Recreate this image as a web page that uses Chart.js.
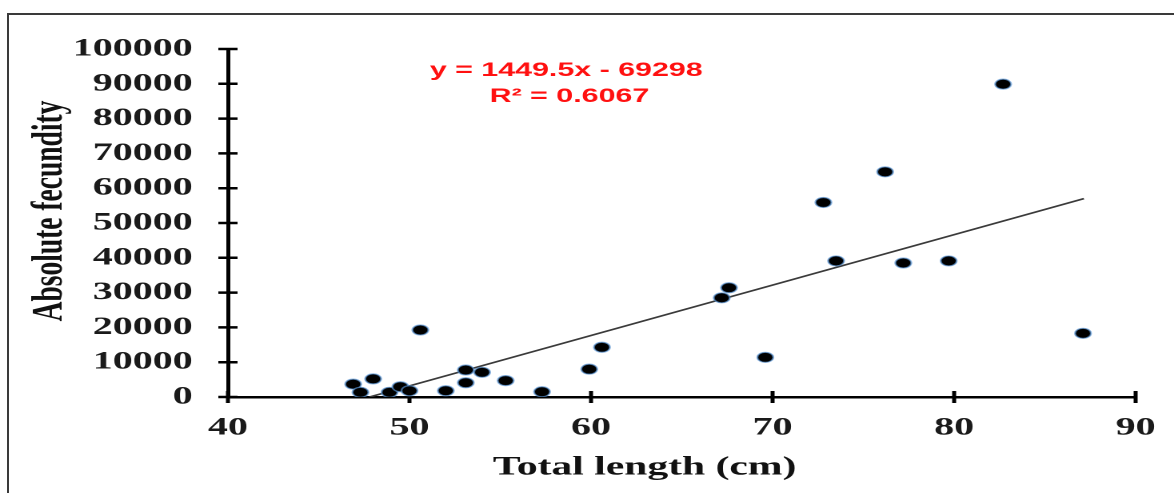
<!DOCTYPE html>
<html>
<head>
<meta charset="utf-8">
<script src="https://cdn.jsdelivr.net/npm/chart.js@4.4.1/dist/chart.umd.min.js"></script>
<style>
  html, body { margin: 0; padding: 0; background: #fff; overflow: hidden; }
  /* marco gris del recorte original */
  #marco { position: absolute; left: 7px; top: 13px; width: 1300px; height: 600px;
           border-left: 2px solid #3a3a3a; border-top: 2px solid #3a3a3a; }
  /* la figura original esta estirada en horizontal */
  #lienzo { position: absolute; left: 0; top: 0; width: 734px; height: 493px;
            transform: scaleX(1.5995); transform-origin: 0 0; }
</style>
</head>
<body>
<div id="marco"></div>
<div id="lienzo"><canvas id="grafico"></canvas></div>
<script>
// ==========================================
// Datos
// ==========================================
const tallas = [46.9, 47.3, 48.0, 48.9, 49.5, 50.0, 50.6, 52.0, 53.1, 53.1, 54.0, 55.3, 57.3,
                59.9, 60.6, 67.2, 67.6, 69.6, 72.8, 73.5, 76.2, 77.2, 79.7, 82.7, 87.1];
const fecundidad = [3700, 1350, 5200, 1350, 2950, 1800, 19250, 1800, 7750, 4100, 7100, 4700, 1500,
                    8000, 14300, 28500, 31400, 11400, 55900, 39100, 64700, 38500, 39100, 89900, 18300];

// extremos de la recta de tendencia
const tendenciaX = [47.8, 87.15];
const tendenciaY = [0, 57000];

const ticksX = [40, 50, 60, 70, 80, 90];
const ticksY = [0, 10000, 20000, 30000, 40000, 50000, 60000, 70000, 80000, 90000, 100000];

const tituloX = 'Total length (cm)';
const tituloY = 'Absolute fecundity';
const ecuacion = 'y = 1449.5x - 69298';
const r2 = 'R\u00b2 = 0.6067';

const fuenteEjes = '"Liberation Serif", "Times New Roman", serif';

// --- Marcas cruzadas, titulos y ecuacion ---
const extras = {
    id: 'extras',
    beforeDatasetsDraw(chart) {
        const { ctx, scales: { x, y } } = chart;
        ctx.save();
        ctx.strokeStyle = '#000';
        ctx.lineWidth = 2.5;
        ctx.beginPath();
        ticksY.forEach(v => {
            const py = y.getPixelForValue(v);
            ctx.moveTo(x.left - 6, py);
            ctx.lineTo(x.left + 6, py);
        });
        ticksX.forEach(v => {
            const px = x.getPixelForValue(v);
            ctx.moveTo(px, y.bottom - 6);
            ctx.lineTo(px, y.bottom + 6);
        });
        ctx.stroke();
        ctx.restore();
    },
    afterDraw(chart) {
        const { ctx } = chart;
        ctx.save();
        // titulos de los ejes (el original no los centra sobre el eje)
        ctx.fillStyle = '#111';
        ctx.textAlign = 'center';
        ctx.textBaseline = 'middle';
        ctx.font = 'bold 26px ' + fuenteEjes;
        ctx.fillText(tituloX, 403, 468);
        ctx.save();
        ctx.translate(31.5, 211);
        ctx.rotate(-Math.PI / 2);
        ctx.font = 'bold 27.5px ' + fuenteEjes;
        ctx.fillText(tituloY, 0, 0);
        ctx.restore();

        // Ecuacion de la regresion en rojo
        ctx.fillStyle = '#ff1010';
        ctx.font = 'bold 19px "Liberation Sans", Arial, sans-serif';
        ctx.fillText(ecuacion, 354, 71);
        ctx.fillText(r2, 356, 97);
        ctx.restore();
    }
};

const ctx = document.getElementById('grafico');

new Chart(ctx, {
    type: 'scatter',
    data: {
        datasets: [
            {
                label: 'Fecundidad',
                data: tallas.map((t, i) => ({ x: t, y: fecundidad[i] })),
                backgroundColor: '#000',
                borderColor: 'rgba(90, 150, 215, 0.65)',
                borderWidth: 1.2,
                pointRadius: 5,
                pointHoverRadius: 5,
                order: 1
            },
            {
                label: 'Tendencia',
                type: 'line',
                data: tendenciaX.map((t, i) => ({ x: t, y: tendenciaY[i] })),
                borderColor: '#3a3a3a',
                borderWidth: 1.6,
                pointRadius: 0,
                fill: false,
                order: 2
            }
        ]
    },
    options: {
        responsive: true,
        maintainAspectRatio: false,
        animation: false,
        devicePixelRatio: 2,
        layout: { padding: { top: 49, right: 24, bottom: 0, left: 0 } },
        plugins: { legend: { display: false }, tooltip: { enabled: false } },
        scales: {
            x: {
                type: 'linear',
                min: 40,
                max: 90,
                afterBuildTicks: s => { s.ticks = ticksX.map(v => ({ value: v })); },
                afterFit: s => { s.height = 96; },
                // tickLength invisible solo para separar las etiquetas del eje
                grid: { display: true, drawOnChartArea: false, drawTicks: true, tickLength: 16, tickColor: 'rgba(0,0,0,0)' },
                border: { display: true, color: '#000', width: 2.5 },
                ticks: { color: '#1a1a1a', padding: 0, font: { family: fuenteEjes, size: 25, weight: 'bold' } },
                title: { display: false }
            },
            y: {
                type: 'linear',
                min: 0,
                max: 100000,
                afterBuildTicks: s => { s.ticks = ticksY.map(v => ({ value: v })); },
                afterFit: s => { s.width = 142.5; },
                grid: { display: true, drawOnChartArea: false, drawTicks: false },
                border: { display: true, color: '#000', width: 2.5 },
                ticks: {
                    color: '#1a1a1a',
                    padding: 22,
                    font: { family: fuenteEjes, size: 25, weight: 'bold' },
                    callback: v => String(v)
                },
                title: { display: false }
            }
        }
    },
    plugins: [extras]
});
</script>
</body>
</html>
